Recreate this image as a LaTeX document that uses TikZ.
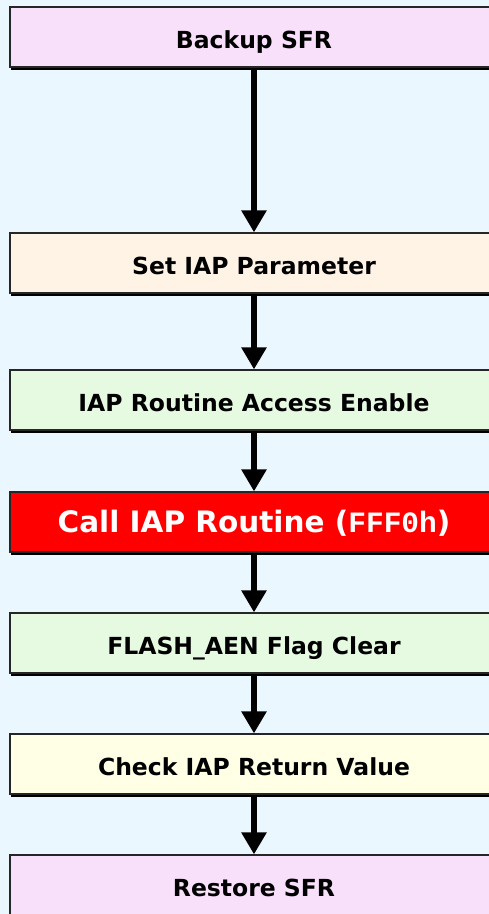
\documentclass[tikz,border=0pt]{standalone}
\usepackage{fontspec}
\setmainfont{DejaVu Sans}
\newfontfamily\monob{Liberation Mono}
\usetikzlibrary{arrows.meta,shadows}
\definecolor{bgblue}{RGB}{235,247,255}
\definecolor{pinkbox}{RGB}{248,224,250}
\definecolor{peachbox}{RGB}{255,243,230}
\definecolor{greenbox}{RGB}{230,250,226}
\definecolor{yellowbox}{RGB}{255,255,230}
\definecolor{redbox}{RGB}{255,0,0}
\begin{document}
\begin{tikzpicture}[x=1pt,y=-1pt,
  flowbox/.style={draw=black!85, line width=1.2pt, minimum width=488pt, minimum height=60pt,
    inner sep=0pt, text height=23pt, text depth=0pt, font=\fontsize{23.5}{28}\selectfont\bfseries,
    drop shadow={shadow xshift=1pt, shadow yshift=-2.5pt, fill=black, opacity=1}},
  flowarrow/.style={line width=5.5pt, -{Triangle[length=22pt,width=24pt]}}]
\useasboundingbox (0,0) rectangle (489,914);
\fill[bgblue] (0,0) rectangle (489,914);
\clip (0,0) rectangle (489,914);
\node[flowbox, fill=pinkbox]   (b1) at (254,37)  {Backup SFR};
\node[flowbox, fill=peachbox]  (b2) at (254,263) {Set IAP Parameter};
\node[flowbox, fill=greenbox]  (b3) at (254,400) {IAP Routine Access Enable};
\node[flowbox, fill=redbox, text=white, text height=22pt, text depth=2pt, font=\fontsize{29.5}{33}\selectfont\bfseries] (b4) at (254,522) {Call IAP Routine ({\monob\bfseries FFF0h})};
\node[flowbox, fill=greenbox]  (b5) at (254,643) {FLASH\_AEN Flag Clear};
\node[flowbox, fill=yellowbox] (b6) at (254,764) {Check IAP Return Value};
\node[flowbox, fill=pinkbox]   (b7) at (254,885) {Restore SFR};
\draw[flowarrow] (b1) -- (b2);
\draw[flowarrow] (b2) -- (b3);
\draw[flowarrow] (b3) -- (b4);
\draw[flowarrow] (b4) -- (b5);
\draw[flowarrow] (b5) -- (b6);
\draw[flowarrow] (b6) -- (b7);
\end{tikzpicture}
\end{document}
